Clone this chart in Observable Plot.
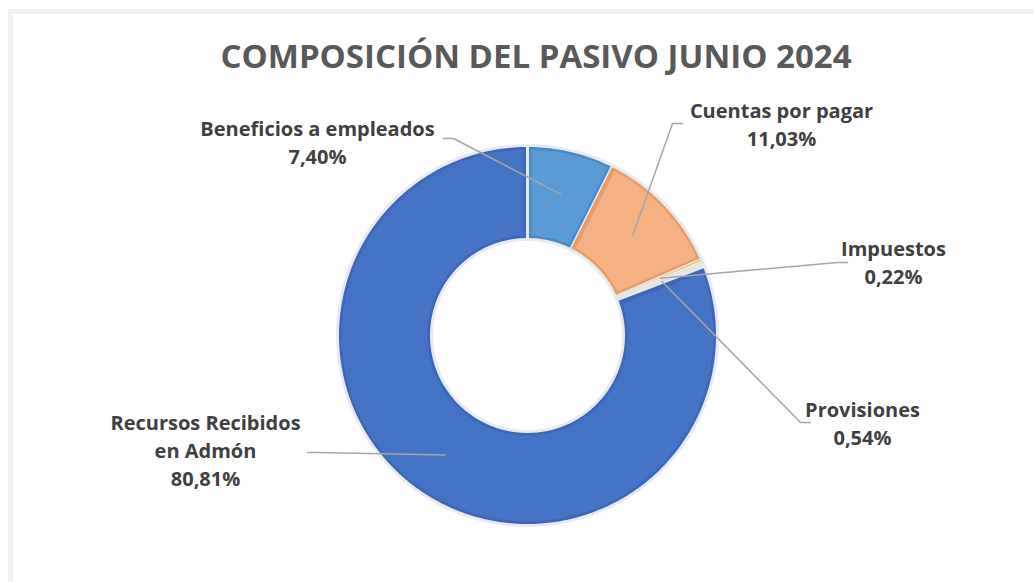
<!DOCTYPE html>
<html><head><meta charset="utf-8">
<script src="https://cdn.jsdelivr.net/npm/d3@7"></script>
<script src="https://cdn.jsdelivr.net/npm/@observablehq/plot@0.6"></script>
<style>
body{margin:0;background:#fff;width:1034px;height:582px;overflow:hidden;position:relative;font-family:"Open Sans",sans-serif}
#frame{position:absolute;left:8px;top:9px;right:-10px;bottom:-10px;border-left:5px solid #f1f1f1;border-top:5px solid #f1f1f1;}
#title{position:absolute;left:19px;top:0;width:1034px;height:90px;text-align:center;font-weight:700;font-size:33px;color:#595959;line-height:1;padding-top:39px;box-sizing:border-box;white-space:nowrap}
#chart{position:absolute;left:0;top:90px}
</style></head><body>
<div id="frame"></div>
<div id="title">COMPOSICIÓN DEL PASIVO JUNIO 2024</div>
<div id="chart"></div>
<script>
// ---- data ----
const categories = ["Beneficios a empleados", "Cuentas por pagar", "Impuestos", "Provisiones", "Recursos Recibidos en Admón"];
const labelNames = ["Beneficios a empleados", "Cuentas por pagar", "Impuestos", "Provisiones", "Recursos Recibidos\nen Admón"];
const shares = [7.40, 11.03, 0.22, 0.54, 80.81];
const percentLabels = ["7,40%", "11,03%", "0,22%", "0,54%", "80,81%"];

// ---- styles / layout ----
const fills = ["#5B9BD5", "#F4B183", "#FFC000", "#E4E4E4", "#4472C4"];
const edges = ["#4A89C6", "#E89D68", "#F2B800", "#E4E4E4", "#3D67B6"];
const R_OUT = 190, R_IN = 96, R_LEADER = 145;
// label centre and leader start (chart units, origin = donut centre, y up)
const labelLayout = [
  {lx: -210, ly: 194, sx: -84, sy: 197, dir: 1},
  {lx: 254, ly: 212, sx: 155, sy: 212, dir: -1},
  {lx: 366, ly: 74, sx: 320, sy: 73, dir: -1},
  {lx: 335, ly: -87, sx: 283, sy: -87, dir: -1},
  {lx: -322, ly: -114, sx: -220, sy: -117, dir: 1}
];

const total = d3.sum(shares);
let cum = 0;
const slices = shares.map((v, i) => {
  const a0 = cum / total * 2 * Math.PI;
  cum += v;
  const a1 = cum / total * 2 * Math.PI;
  return {i, name: categories[i], a0, a1, mid: (a0 + a1) / 2};
});

function arcPoly(s, r0, r1, inset) {
  const pts = [];
  const n = Math.max(4, Math.ceil((s.a1 - s.a0) * 180 / Math.PI));
  const ao0 = s.a0 + inset / r1, ao1 = s.a1 - inset / r1;
  const ai0 = s.a0 + inset / r0, ai1 = s.a1 - inset / r0;
  for (let k = 0; k <= n; k++) {
    const a = ao0 + (ao1 - ao0) * k / n;
    pts.push({key: s.i, x: r1 * Math.sin(a), y: r1 * Math.cos(a)});
  }
  for (let k = n; k >= 0; k--) {
    const a = ai0 + (ai1 - ai0) * k / n;
    pts.push({key: s.i, x: r0 * Math.sin(a), y: r0 * Math.cos(a)});
  }
  return pts;
}

const outerPts = slices.flatMap(s => arcPoly(s, R_IN, R_OUT, 0));
const innerPts = slices.filter(s => (s.a1 - s.a0) * R_IN > 12)
  .flatMap(s => arcPoly(s, R_IN + 4, R_OUT - 4, 4));

const leaderPts = slices.flatMap(s => {
  const L = labelLayout[s.i];
  return [
    {key: s.i, x: L.sx, y: L.sy},
    {key: s.i, x: L.sx + L.dir * 10, y: L.sy},
    {key: s.i, x: R_LEADER * Math.sin(s.mid), y: R_LEADER * Math.cos(s.mid)}
  ];
});

const labels = slices.map(s => ({
  x: labelLayout[s.i].lx, y: labelLayout[s.i].ly,
  text: labelNames[s.i] + "\n" + percentLabels[s.i]
}));

const W = 1034, H = 492, CX = 527, CY = 245;
const plot = Plot.plot({
  width: W, height: H,
  margin: 0,
  x: {domain: [-CX, W - CX], axis: null},
  y: {domain: [-(H - CY), CY], axis: null},
  style: {fontFamily: "'Open Sans', sans-serif", background: "transparent"},
  marks: [
    Plot.line(outerPts, {x: "x", y: "y", z: "key", curve: "linear",
      fill: d => edges[d.key], stroke: "#E6EAF1", strokeWidth: 3, strokeLinejoin: "round"}),
    Plot.line(innerPts, {x: "x", y: "y", z: "key", curve: "linear",
      fill: d => fills[d.key], stroke: "none"}),
    Plot.line(leaderPts, {x: "x", y: "y", z: "key", stroke: "#A6A6A6", strokeWidth: 1.5}),
    Plot.text(labels, {x: "x", y: "y", text: "text", fontSize: 20, fontWeight: 700,
      fill: "#404040", lineHeight: 28 / 20, textAnchor: "middle"})
  ]
});
document.getElementById("chart").appendChild(plot);
</script>
</body></html>
